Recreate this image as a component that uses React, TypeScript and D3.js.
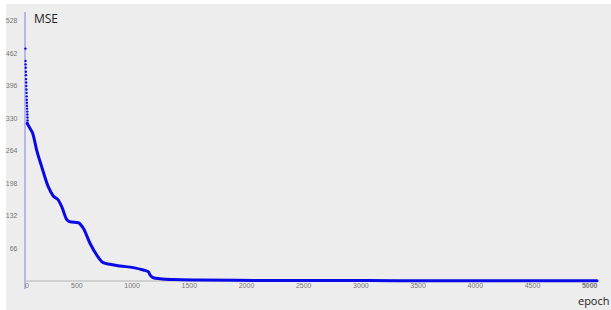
import React from "react";
import * as d3 from "d3";

const epochs = [0, 1, 2, 3, 4, 5, 6, 7, 8, 9, 10, 11, 12, 13, 14, 15, 16, 17, 18, 19, 20, 44, 67, 102, 146, 204, 247, 291, 321, 364, 393, 466, 510, 568, 627, 684, 743, 830, 947, 1034, 1078, 1093, 1122, 1180, 1300, 1530, 2000, 2500, 3000, 3500, 4000, 4500, 5000];
const mse = [472, 447, 440, 433, 425, 418, 410, 403, 396, 389, 382, 375, 368, 362, 356, 350, 344, 338, 332, 326, 320, 310, 300, 266, 232, 191, 172.6, 164.5, 151, 125.3, 120.4, 118.4, 107, 76.6, 52.8, 37.2, 33.9, 30.5, 27.2, 22.3, 18.9, 12.2, 6.7, 4.7, 3.0, 2.0, 1.2, 1.0, 0.8, 0.7, 0.6, 0.5, 0.5];
const yTicks = [66, 132, 198, 264, 330, 396, 462, 528];
const xTicks = [0, 500, 1000, 1500, 2000, 2500, 3000, 3500, 4000, 4500, 5000];
const DOT_LIMIT = 20;

export default function App() {
  const W = 611, H = 310;
  const x = d3.scaleLinear().domain([0, 5000]).range([25, 597]);
  const y = d3.scaleLinear().domain([0, 528]).range([281, 21]);
  const data = epochs.map((e, i) => ({ e, v: mse[i] }));
  const lineData = data.filter(d => d.e >= DOT_LIMIT);
  const dots = data.filter(d => d.e <= DOT_LIMIT);
  const line = d3.line<{ e: number; v: number }>()
    .x(d => x(d.e))
    .y(d => y(d.v))
    .curve(d3.curveMonotoneX);
  const tickFont = "Arial, 'Liberation Sans', sans-serif";
  return (
    <svg width={W} height={H} style={{ position: "absolute", left: 0, top: 0, background: "#fff" }}>
      <rect x={6} y={4} width={W - 6} height={H - 4} fill="#ededed" />
      <line x1={x(0)} x2={x(5000) + 1} y1={281} y2={281} stroke="#b4b4b4" strokeWidth={1} />
      <line x1={25} x2={25} y1={12} y2={289} stroke="#a6a6e6" strokeWidth={1.5} />
      {yTicks.map(t => (
        <text key={t} x={17.5} y={y(t)} dy="0.35em" textAnchor="end" fontSize={7} fill="#777" fontFamily={tickFont}>{t}</text>
      ))}
      {xTicks.map(t => (
        <text key={t} x={t === 0 ? x(0) : x(t) + 0.5} y={288} textAnchor={t === 0 ? "start" : "end"} fontSize={7} fill="#777" fontFamily={tickFont} fontWeight={t === 5000 ? "bold" : "normal"}>{t}</text>
      ))}
      <path d={line(lineData) || ""} fill="none" stroke="#0a0ae6" strokeWidth={3} strokeLinejoin="round" strokeLinecap="round" />
      {dots.map(d => (
        <circle key={d.e} cx={x(d.e) + 0.4} cy={y(d.v)} r={1.2} fill="#0a0ae6" />
      ))}
      <text x={34} y={22.5} fontSize={12} fill="#222" fontFamily="'Open Sans', sans-serif">MSE</text>
      <text x={609.5} y={305} textAnchor="end" fontSize={11} fill="#222" fontFamily="'Open Sans', sans-serif">epoch</text>
    </svg>
  );
}
